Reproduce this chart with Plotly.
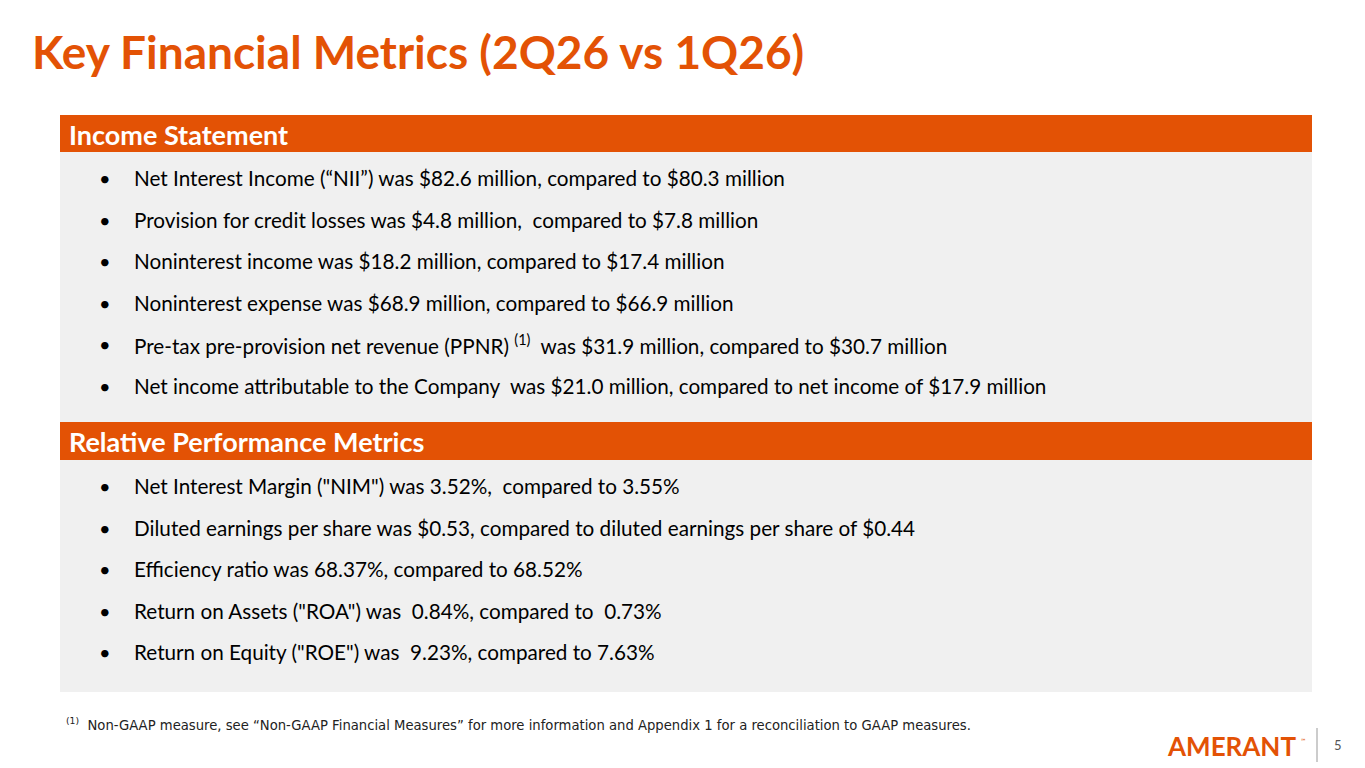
import plotly.graph_objects as go

W, H = 1365, 768
OFF = 8  # page body margin shifts the figure by this much
ORANGE = "#E35205"
GRAY = "#F0F0F0"

title = "Key Financial Metrics (2Q26 vs 1Q26)"
section_names = ["Income Statement", "Relative Performance Metrics"]
income_items = [
    "Net Interest Income (“NII”) was $82.6 million, compared to $80.3 million",
    "Provision for credit losses was $4.8 million,  compared to $7.8 million",
    "Noninterest income was $18.2 million, compared to $17.4 million",
    "Noninterest expense was $68.9 million, compared to $66.9 million",
    "Pre-tax pre-provision net revenue (PPNR) <sup>(1)</sup>  was $31.9 million, compared to $30.7 million",
    "Net income attributable to the Company  was $21.0 million, compared to net income of $17.9 million",
]
perf_items = [
    "Net Interest Margin (\"NIM\") was 3.52%,  compared to 3.55%",
    "Diluted earnings per share was $0.53, compared to diluted earnings per share of $0.44",
    "Efficiency ratio was 68.37%, compared to 68.52%",
    "Return on Assets (\"ROA\") was  0.84%, compared to  0.73%",
    "Return on Equity (\"ROE\") was  9.23%, compared to 7.63%",
]
footnote = ("<sup>(1)</sup>  Non-GAAP measure, see “Non-GAAP Financial Measures” for more information "
            "and Appendix 1 for a reconciliation to GAAP measures.")
page_no = "5"


def px(x):
    return (x - OFF) / W


def py(y):
    return 1 - (y - OFF) / H


fig = go.Figure()
shapes = []
ann = []


def rect(x0, y0, x1, y1, color):
    shapes.append(dict(type="rect", xref="paper", yref="paper", x0=px(x0), x1=px(x1),
                       y0=py(y1), y1=py(y0), fillcolor=color, line_width=0, layer="below"))


def text(x, y, s, size, color="#000000", bold=False, family="Lato", anchor="left"):
    if bold:
        s = "<b>" + s + "</b>"
    ann.append(dict(xref="paper", yref="paper", x=px(x), y=py(y), text=s, showarrow=False,
                    xanchor=anchor, yanchor="middle",
                    font=dict(size=size, color=color, family=family)))


text(30, 52, title, 46, ORANGE, bold=True)

# income statement section
rect(60, 115, 1312, 152, ORANGE)
rect(60, 152, 1312, 422, GRAY)
text(67, 134, section_names[0], 27, "white", bold=True)
for i, s in enumerate(income_items):
    y = 178 + i * 41.6
    text(97, y, "•", 20)
    text(132, y, s, 20.7)

# relative performance section
rect(60, 422, 1312, 460, ORANGE)
rect(60, 460, 1312, 692, GRAY)
text(67, 441, section_names[1], 27, "white", bold=True)
for i, s in enumerate(perf_items):
    y = 486 + i * 41.5
    text(97, y, "•", 20)
    text(132, y, s, 20.7)

text(64, 724, footnote, 13.2, "#222222", family="DejaVu Sans")

# logo and page number
text(1165, 746, "AMERANT", 26, ORANGE, bold=True, family="Lato")
text(1299, 740, "℠", 6, ORANGE)
shapes.append(dict(type="line", xref="paper", yref="paper", x0=px(1317), x1=px(1317),
                   y0=py(762), y1=py(728), line=dict(color="#999999", width=1)))
text(1338, 745, page_no, 13, "#555555", anchor="center")

fig.update_layout(width=W, height=H, margin=dict(l=0, r=0, t=0, b=0),
                  paper_bgcolor="white", plot_bgcolor="white",
                  xaxis=dict(visible=False), yaxis=dict(visible=False),
                  shapes=shapes, annotations=ann, showlegend=False)

fig.write_html("out.html")
